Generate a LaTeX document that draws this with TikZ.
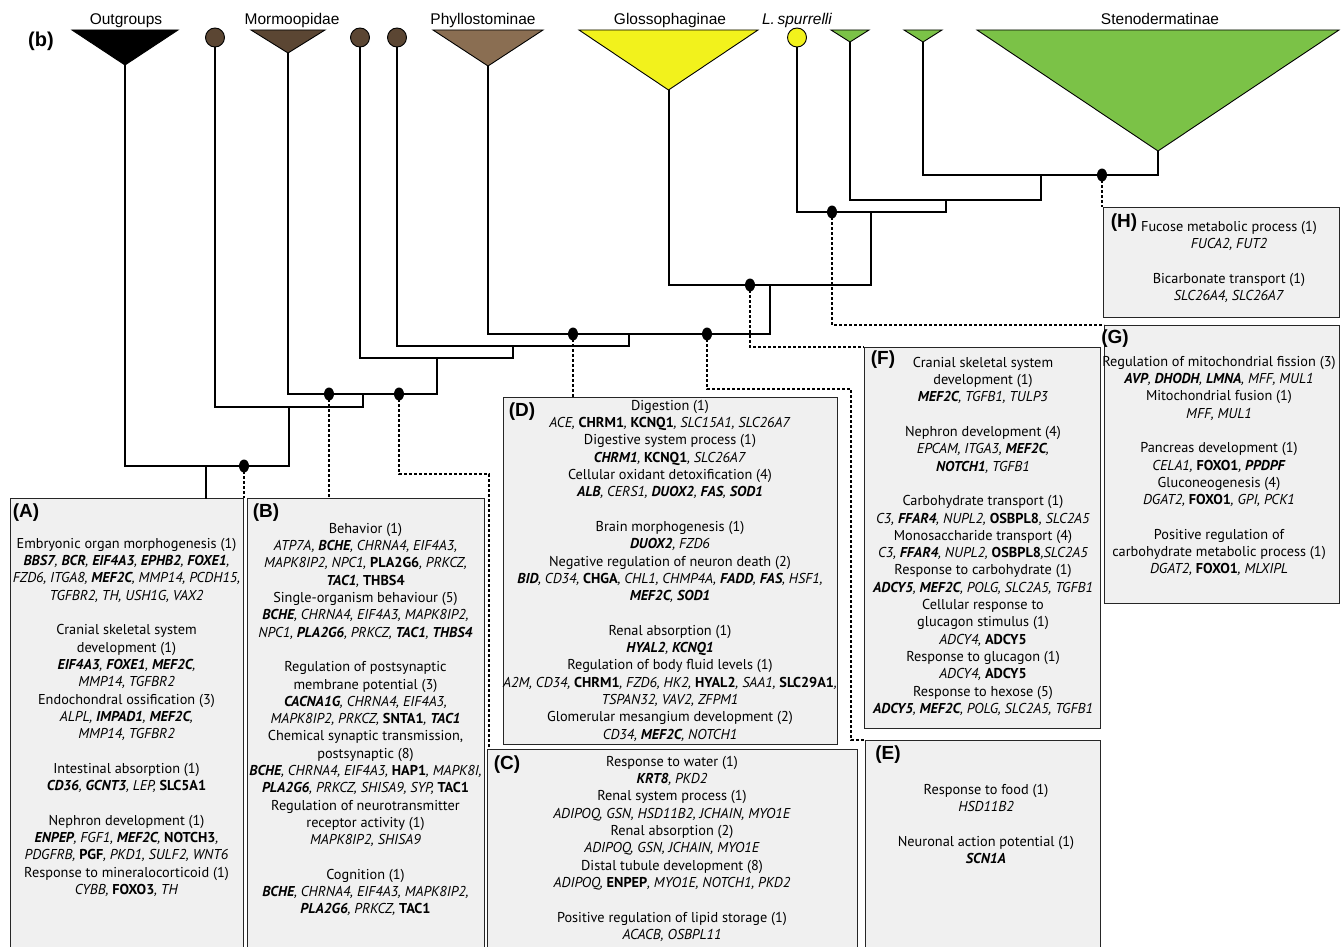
\documentclass[tikz,border=0pt]{standalone}
\usepackage{fontspec}
\setmainfont{PT Sans}
\newfontfamily\taxfont{Liberation Sans}
\usepackage{tikz}
\usetikzlibrary{calc}
\usetikzlibrary{shapes.geometric}

\definecolor{mormbrown}{HTML}{5B4633}
\definecolor{phylbrown}{HTML}{8A6E52}
\definecolor{glossyellow}{HTML}{F2F21C}
\definecolor{stenogreen}{HTML}{7BC247}
\definecolor{boxgrey}{HTML}{F0F0F0}

\newcommand{\GOFontSize}{\fontsize{14.3}{17.3}\selectfont}
\newcommand{\GOskip}{17.3pt}
\newcommand{\genes}[1]{\textit{#1}}
\newcommand{\hb}[1]{\textbf{#1}}
\newcommand{\hu}[1]{\textup{\textbf{#1}}}

\newcommand{\CladeTri}[5]{
  \coordinate (#1) at ({(#2+#3)/2},#4);
  \filldraw[clade, fill=#5] (#2,30) -- (#3,30) -- (#1) -- cycle;
}
\newcommand{\CladeDot}[3]{
  \node[taxdot, fill=#3] (#1top) at (#2,37.5) {};
  \coordinate (#1) at (#1top.south);
}
\newcommand{\GOBox}[5]{
  \node[gobox, anchor=north west, minimum width={#4-#2}, minimum height={#5-#3}] (#1) at (#2,#3) {};
}
\newcommand{\GOLabel}[3]{
  \node[golabel] (#1) at #2 {#3};
}

\begin{document}
\begin{tikzpicture}[x=1pt, y=-1pt,
  branch/.style={line width=1.3pt, line cap=rect},
  clade/.style={draw=black, line width=0.9pt},
  taxdot/.style={circle, draw=black, line width=0.9pt, minimum size=19pt, inner sep=0pt},
  godot/.style={ellipse, fill=black, minimum width=10pt, minimum height=13pt, inner sep=0pt},
  golink/.style={line width=1.2pt, dash pattern=on 3pt off 2pt},
  gobox/.style={draw=black!85, fill=boxgrey, line width=1.4pt, inner sep=0pt},
  gotext/.style={align=center, font=\GOFontSize, inner sep=0pt, anchor=north},
  golabel/.style={font=\taxfont\bfseries\fontsize{19}{19}\selectfont, inner sep=0pt},
  taxon/.style={font=\taxfont\fontsize{15.5}{15.5}\selectfont, anchor=base, inner sep=0pt}]
\useasboundingbox (0,0) rectangle (1344,947);

\GOBox{boxH}{1103}{207}{1339}{317}
\GOBox{boxG}{1104}{325}{1339}{603}
\GOBox{boxF}{864}{347}{1100}{728}
\GOBox{boxD}{503}{397}{837}{744}
\GOBox{boxA}{10}{498}{243}{960}
\GOBox{boxB}{247}{498}{484}{960}
\GOBox{boxC}{487}{749}{857}{960}
\GOBox{boxE}{865}{740}{1100}{960}

\GOLabel{labA}{(26,513)}{(A)}
\GOLabel{labB}{(266,513)}{(B)}
\GOLabel{labC}{(507,765)}{(C)}
\GOLabel{labD}{(522,412)}{(D)}
\GOLabel{labE}{(888,755)}{(E)}
\GOLabel{labF}{(883,360)}{(F)}
\GOLabel{labG}{(1115,339)}{(G)}
\GOLabel{labH}{(1124,223)}{(H)}

\node[gotext] (textA) at (126.5,538) {Embryonic organ morphogenesis (1)\\
\genes{\hb{BBS7}, \hb{BCR}, \hb{EIF4A3}, \hb{EPHB2}, \hb{FOXE1},}\\
\genes{FZD6, ITGA8, \hb{MEF2C}, MMP14, PCDH15,}\\
\genes{TGFBR2, TH, USH1G, VAX2}\\[\GOskip]
Cranial skeletal system\\
development (1)\\
\genes{\hb{EIF4A3}, \hb{FOXE1}, \hb{MEF2C},}\\
\genes{MMP14, TGFBR2}\\
Endochondral ossification (3)\\
\genes{ALPL, \hb{IMPAD1}, \hb{MEF2C},}\\
\genes{MMP14,  TGFBR2}\\[\GOskip]
Intestinal absorption (1)\\
\genes{\hb{CD36}, \hb{GCNT3}, LEP, \hu{SLC5A1}}\\[\GOskip]
Nephron development (1)\\
\genes{\hb{ENPEP}, FGF1, \hb{MEF2C}, \hu{NOTCH3},}\\
\genes{PDGFRB, \hu{PGF}, PKD1, SULF2, WNT6}\\
Response to mineralocorticoid (1)\\
\genes{CYBB, \hu{FOXO3}, TH}};

\node[gotext] (textB) at (365.5,523) {Behavior (1)\\
\genes{ATP7A, \hb{BCHE}, CHRNA4, EIF4A3,}\\
\genes{MAPK8IP2, NPC1, \hu{PLA2G6}, PRKCZ,}\\
\genes{\hb{TAC1}, \hu{THBS4}}\\
Single-organism behaviour (5)\\
\genes{\hb{BCHE}, CHRNA4, EIF4A3, MAPK8IP2,}\\
\genes{NPC1, \hb{PLA2G6}, PRKCZ, \hb{TAC1}, \hb{THBS4}}\\[\GOskip]
Regulation of postsynaptic\\
membrane potential (3)\\
\genes{\hb{CACNA1G}, CHRNA4, EIF4A3,}\\
\genes{MAPK8IP2, PRKCZ, \hu{SNTA1}, \hb{TAC1}}\\
Chemical synaptic transmission,\\
postsynaptic (8)\\
\genes{\hb{BCHE}, CHRNA4, EIF4A3, \hu{HAP1}, MAPK8I,}\\
\genes{\hb{PLA2G6}, PRKCZ, SHISA9, SYP, \hu{TAC1}}\\
Regulation of neurotransmitter\\
receptor activity (1)\\
\genes{MAPK8IP2, SHISA9}\\[\GOskip]
Cognition (1)\\
\genes{\hb{BCHE}, CHRNA4, EIF4A3, MAPK8IP2,}\\
\genes{\hb{PLA2G6}, PRKCZ, \hu{TAC1}}};

\node[gotext] (textC) at (672,756) {Response to water (1)\\
\genes{\hb{KRT8}, PKD2}\\
Renal system process (1)\\
\genes{ADIPOQ, GSN, HSD11B2, JCHAIN, MYO1E}\\
Renal absorption (2)\\
\genes{ADIPOQ, GSN, JCHAIN, MYO1E}\\
Distal tubule development (8)\\
\genes{ADIPOQ, \hu{ENPEP}, MYO1E, NOTCH1, PKD2}\\[\GOskip]
Positive regulation of lipid storage (1)\\
\genes{ACACB, OSBPL11}};

\node[gotext] (textD) at (670,400) {Digestion (1)\\
\genes{ACE, \hu{CHRM1}, \hu{KCNQ1}, SLC15A1, SLC26A7}\\
Digestive system process (1)\\
\genes{\hb{CHRM1}, \hu{KCNQ1}, SLC26A7}\\
Cellular oxidant detoxification (4)\\
\genes{\hb{ALB}, CERS1, \hb{DUOX2}, \hb{FAS}, \hb{SOD1}}\\[\GOskip]
Brain morphogenesis (1)\\
\genes{\hb{DUOX2}, FZD6}\\
Negative regulation of neuron death (2)\\
\genes{\hb{BID}, CD34, \hu{CHGA}, CHL1, CHMP4A, \hb{FADD}, \hb{FAS}, HSF1,}\\
\genes{\hb{MEF2C}, \hb{SOD1}}\\[\GOskip]
Renal absorption (1)\\
\genes{\hb{HYAL2}, \hb{KCNQ1}}\\
Regulation of body fluid levels (1)\\
\genes{A2M, CD34, \hu{CHRM1}, FZD6, HK2, \hu{HYAL2}, SAA1, \hu{SLC29A1},}\\
\genes{TSPAN32, VAV2, ZFPM1}\\
Glomerular mesangium development (2)\\
\genes{CD34, \hb{MEF2C}, NOTCH1}};

\node[gotext] (textE) at (986,784) {Response to food (1)\\
\genes{HSD11B2}\\[\GOskip]
Neuronal action potential (1)\\
\genes{\hb{SCN1A}}};

\node[gotext] (textF) at (983,357) {Cranial skeletal system\\
development (1)\\
\genes{\hb{MEF2C}, TGFB1, TULP3}\\[\GOskip]
Nephron development (4)\\
\genes{EPCAM, ITGA3, \hb{MEF2C},}\\
\genes{\hb{NOTCH1}, TGFB1}\\[\GOskip]
Carbohydrate transport (1)\\
\genes{C3, \hb{FFAR4}, NUPL2, \hu{OSBPL8}, SLC2A5}\\
Monosaccharide transport (4)\\
\genes{C3, \hb{FFAR4}, NUPL2, \hu{OSBPL8},SLC2A5}\\
Response to carbohydrate (1)\\
\genes{\hb{ADCY5}, \hb{MEF2C}, POLG, SLC2A5, TGFB1}\\
Cellular response to\\
glucagon stimulus (1)\\
\genes{ADCY4, \hu{ADCY5}}\\
Response to glucagon (1)\\
\genes{ADCY4, \hu{ADCY5}}\\
Response to hexose (5)\\
\genes{\hb{ADCY5}, \hb{MEF2C}, POLG, SLC2A5, TGFB1}};

\node[gotext] (textG) at (1219,356) {Regulation of mitochondrial fission (3)\\
\genes{\hb{AVP}, \hb{DHODH}, \hb{LMNA}, MFF, MUL1}\\
Mitochondrial fusion (1)\\
\genes{MFF, MUL1}\\[\GOskip]
Pancreas development (1)\\
\genes{CELA1, \hu{FOXO1}, \hb{PPDPF}}\\
Gluconeogenesis (4)\\
\genes{DGAT2, \hu{FOXO1}, GPI, PCK1}\\[\GOskip]
Positive regulation of\\
carbohydrate metabolic process (1)\\
\genes{DGAT2, \hu{FOXO1}, MLXIPL}};

\node[gotext] (textH) at (1229,221) {Fucose metabolic process (1)\\
\genes{FUCA2, FUT2}\\[\GOskip]
Bicarbonate transport (1)\\
\genes{SLC26A4, SLC26A7}};

% tips
\coordinate (og) at (125,65);
\coordinate (mo) at (288,53);
\coordinate (ph) at (488,66);
\coordinate (gl) at (669,90);
\coordinate (s1) at (850,42);
\coordinate (s2) at (923,42);
\coordinate (st) at (1158,151);
\coordinate (m1) at (215,47);
\coordinate (m2) at (360,47);
\coordinate (m3) at (397,47);
\coordinate (ls) at (797,47);

% internal nodes
\coordinate (n1) at (1041,175);
\coordinate (n2) at (946,200);
\coordinate (n3) at (871,212);
\coordinate (n4) at (770,285);
\coordinate (n5) at (629,334);
\coordinate (n6) at (513,346);
\coordinate (n7) at (437,358);
\coordinate (n8) at (363,394);
\coordinate (n9) at (289,407);
\coordinate (n10) at (206,466);

\foreach \a/\p/\b in {s2/n1/st, s1/n2/n1, ls/n3/n2, gl/n4/n3, ph/n5/n4, m3/n6/n5, m2/n7/n6, mo/n8/n7, m1/n9/n8, og/n10/n9}
  \draw[branch] (\a) |- (\p) -| (\b);
\draw[branch] (n10) -- (n10 |- boxA.north);

\CladeTri{og}{72}{178}{65}{black}
\CladeTri{mo}{251}{325}{53}{mormbrown}
\CladeTri{ph}{433}{543}{66}{phylbrown}
\CladeTri{gl}{579}{758}{90}{glossyellow}
\CladeTri{s1}{831}{869}{42}{stenogreen}
\CladeTri{s2}{904}{942}{42}{stenogreen}
\CladeTri{st}{977}{1339}{151}{stenogreen}
\CladeDot{m1}{215}{mormbrown}
\CladeDot{m2}{360}{mormbrown}
\CladeDot{m3}{397}{mormbrown}
\CladeDot{ls}{797}{glossyellow}

\node[taxon] (tOut) at (126,25) {Outgroups};
\node[taxon] (tMorm) at (292,25) {Mormoopidae};
\node[taxon] (tPhyl) at (483,25) {Phyllostominae};
\node[taxon] (tGlos) at (670,25) {Glossophaginae};
\node[taxon] (tLsp) at (797,25) {\itshape L.\,spurrelli};
\node[taxon] (tSten) at (1160,25) {Stenodermatinae};
\node[font=\taxfont\bfseries\fontsize{20}{20}\selectfont, inner sep=0pt] (panel) at (41,41) {(b)};

% GO term links
\coordinate (cC) at (489,474);
\coordinate (cE) at (851,389);
\foreach \n/\x/\y in {dA/244/466, dB/329/394, dC/399/394, dD/573/334, dE/707/334, dF/750/285, dG/832/212, dH/1102/175}
  \coordinate (\n) at (\x,\y);
\draw[golink] (dA) -- (dA |- boxA.north);
\draw[golink] (dB) -- (dB |- boxB.north);
\draw[golink] (dC) |- (cC) -- (cC |- boxC.north);
\draw[golink] (dD) -- (dD |- boxD.north);
\draw[golink] (dE) |- (cE) -- (cE |- boxE.north) -- (boxE.north west);
\draw[golink] (dF) |- (boxF.north west);
\draw[golink] (dG) |- (boxG.north west);
\draw[golink] (dH) -- (dH |- boxH.north);
\foreach \n in {dA, dB, dC, dD, dE, dF, dG, dH}
  \node[godot] (\n dot) at (\n) {};
\end{tikzpicture}
\end{document}
